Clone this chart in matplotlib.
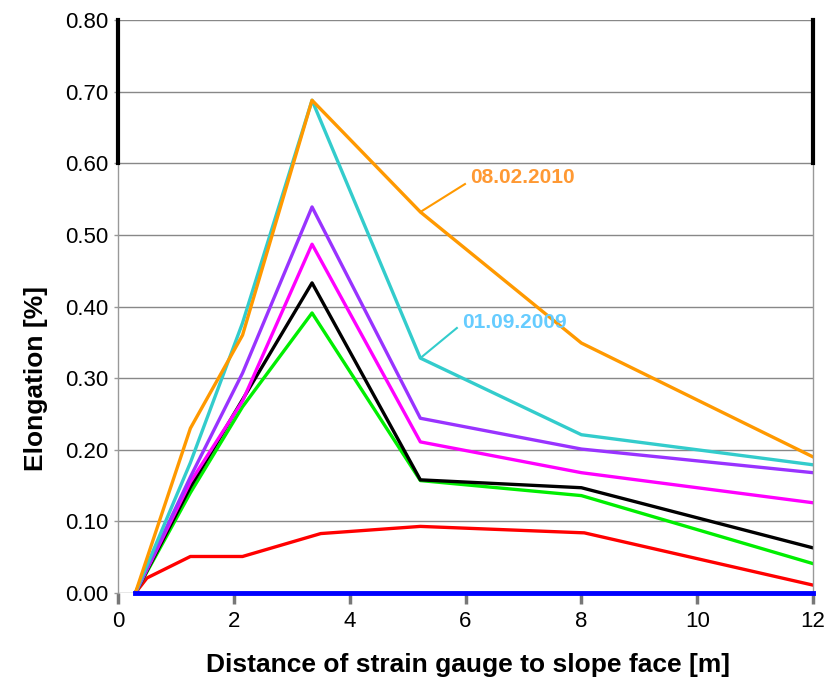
import matplotlib
matplotlib.use("Agg")
import matplotlib.pyplot as plt

plt.rcParams['font.family'] = ['Liberation Sans', 'DejaVu Sans']

# gauge positions [m]
x_pos = [0.3, 1.25, 2.15, 3.35, 5.22, 8.0, 12.0]
x_red = [0.3, 0.5, 1.25, 2.15, 3.5, 5.22, 8.05, 12.0]

# elongation [%] per reading
blue = [0.0, 0.0, 0.0, 0.0, 0.0, 0.0, 0.0]
red = [0.0, 0.021, 0.051, 0.051, 0.083, 0.093, 0.084, 0.011]
green = [0.0, 0.14, 0.26, 0.391, 0.157, 0.136, 0.041]
black = [0.0, 0.148, 0.27, 0.433, 0.158, 0.147, 0.063]
magenta = [0.0, 0.155, 0.268, 0.487, 0.211, 0.168, 0.126]
purple = [0.0, 0.162, 0.307, 0.539, 0.244, 0.201, 0.168]
cyan = [0.0, 0.182, 0.377, 0.688, 0.328, 0.221, 0.179]
orange = [0.0, 0.23, 0.36, 0.688, 0.532, 0.349, 0.19]

fig = plt.figure(figsize=(8.28, 6.81), dpi=100)
ax = fig.add_axes([0.1425, 0.1292, 0.8395, 0.8414])

lw = 2.4
ax.plot(x_pos, blue, color='#0000FF', lw=3.5, zorder=5, clip_on=False)
ax.plot(x_red, red, color='#FF0000', lw=lw)
ax.plot(x_pos, green, color='#00EE00', lw=lw)
ax.plot(x_pos, black, color='#000000', lw=lw)
ax.plot(x_pos, magenta, color='#FF00FF', lw=lw)
ax.plot(x_pos, purple, color='#9933FF', lw=lw)
ax.plot(x_pos, cyan, color='#33CCCC', lw=lw)
ax.plot(x_pos, orange, color='#FF9900', lw=lw)

# labels for the first and last readings
ax.plot([x_pos[4], 5.99], [orange[4], 0.571], color='#FF9900', lw=1.5)
ax.text(6.08, 0.58, '08.02.2010', color='#FF9933', fontsize=15, fontweight='bold',
        va='center', ha='left')
ax.plot([x_pos[4], 5.85], [cyan[4], 0.37], color='#33CCCC', lw=1.5)
ax.text(5.94, 0.378, '01.09.2009', color='#66CCFF', fontsize=15, fontweight='bold',
        va='center', ha='left')

ax.set_xlim(0, 12)
ax.set_ylim(0, 0.80)
ax.set_xticks(range(0, 13, 2))
ax.set_yticks([i / 10 for i in range(9)])
ax.set_yticklabels(['%.2f' % (i / 10) for i in range(9)])
ax.yaxis.grid(True, color='#888888', lw=1.0)
ax.set_axisbelow(True)

for side in ['top', 'bottom']:
    ax.spines[side].set_visible(False)
for side in ['left', 'right']:
    ax.spines[side].set_color('#999999')
    ax.spines[side].set_linewidth(1.0)
    ax.spines[side].set_bounds(0, 0.60)
# heavy frame segments on the upper band
ax.plot([0, 0], [0.60, 0.80], color='black', lw=3, clip_on=False, zorder=6)
ax.plot([12, 12], [0.60, 0.80], color='black', lw=3, clip_on=False, zorder=6)

ax.tick_params(axis='x', direction='out', length=8, width=2.5, color='#777777',
               labelsize=16, pad=5)
ax.tick_params(axis='y', direction='out', length=3, width=1, color='#999999',
               labelsize=16, pad=4)

fig.text(0.565, 0.0132, 'Distance of strain gauge to slope face [m]', fontsize=19,
         fontweight='bold', ha='center', va='baseline')
fig.text(0.0435, 0.4435, 'Elongation [%]', fontsize=19, fontweight='bold',
         rotation=90, ha='center', va='center')

fig.savefig('out.png', dpi=100)
